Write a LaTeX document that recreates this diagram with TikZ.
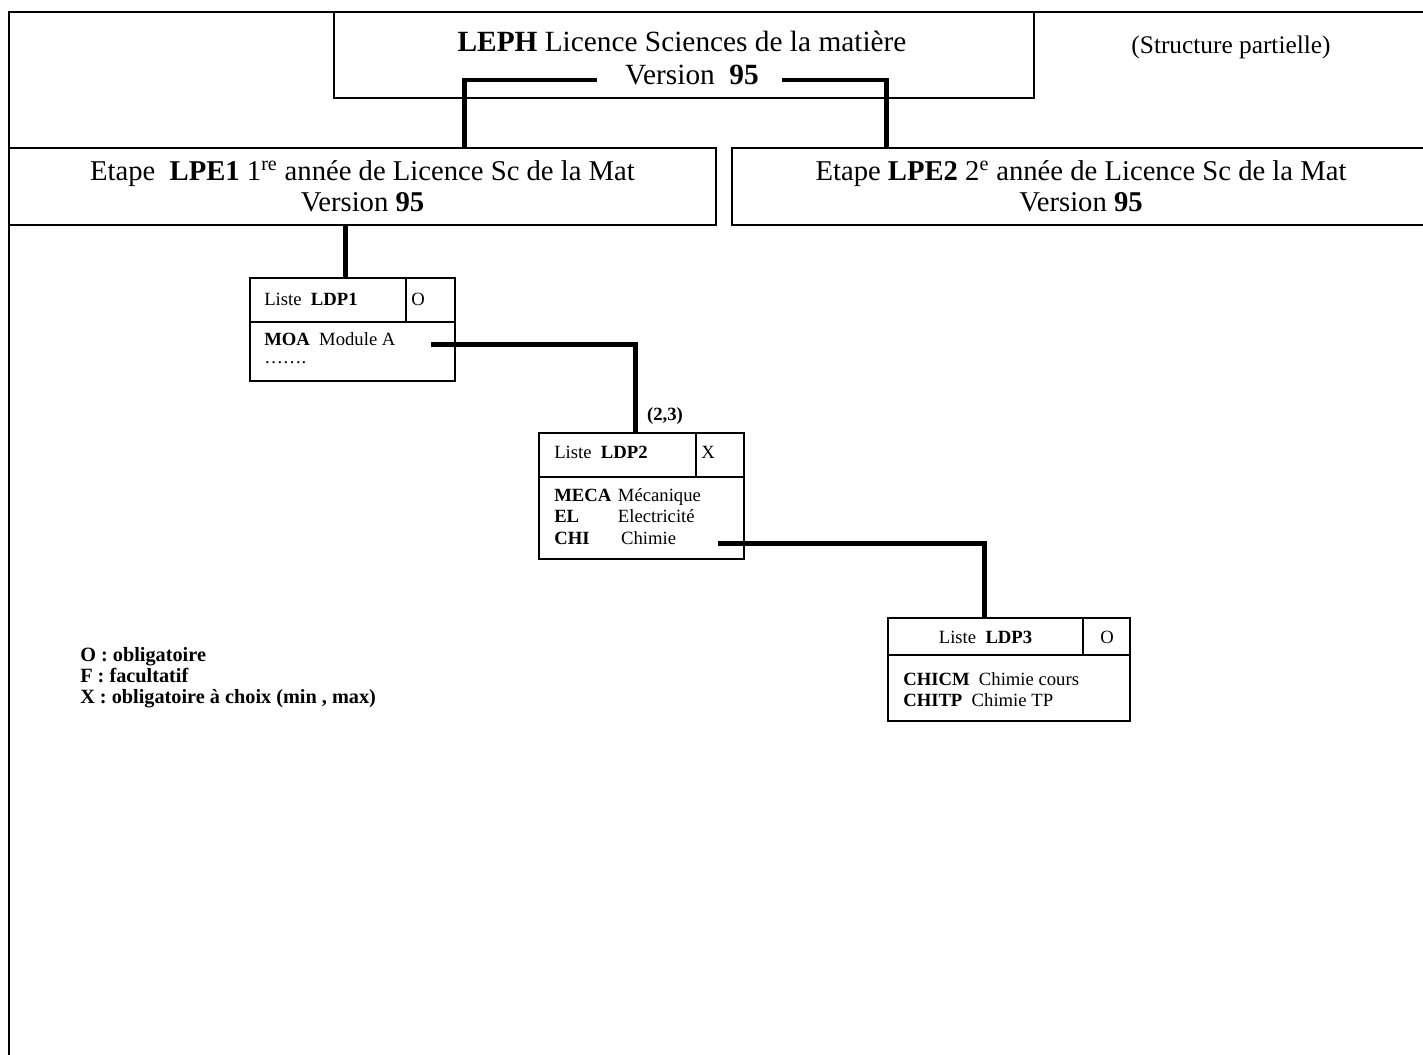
\documentclass[tikz,border=0pt]{standalone}
\usepackage{fontspec}
\setmainfont{Liberation Serif}
\usetikzlibrary{calc}

\newcommand\bigtxt{\fontsize{21.5}{23.3}\selectfont}
\newcommand\toptxt{\fontsize{22}{24}\selectfont}
\newcommand\midtxt{\fontsize{19}{22}\selectfont}
\newcommand\listtxt{\fontsize{14}{16.2}\selectfont}
\newcommand\keytxt{\fontsize{15.2}{16}\selectfont\bfseries}

\begin{document}
\begin{tikzpicture}[x=0.75pt,y=-0.75pt,
  frame/.style={line width=1.5pt},
  box/.style={draw,line width=0.9pt,inner sep=0pt},
  rule/.style={line width=0.9pt},
  link/.style={line width=3.5pt},
  lbl/.style={inner sep=0pt},
  ]
  \useasboundingbox (0,0) rectangle (1423,1054);
  \draw[frame] (9,1060) -- (9,12) -- (1430,12);

  \node[box,minimum width=525pt,minimum height=64.5pt] (leph) at (684,55) {};
  \node[lbl,font=\toptxt,anchor=base] (lephtitle) at (682,51.5) {\textbf{LEPH} Licence Sciences de la matière};
  \node[lbl,font=\toptxt,anchor=base] (lephver) at (692,84) {Version~~\textbf{95}};
  \node[lbl,font=\midtxt,anchor=base] (partial) at (1231,53) {(Structure partielle)};

  \node[box,font=\bigtxt,align=center,minimum width=530.25pt,minimum height=57.75pt] (lpe1) at (362.5,186.5)
    {Etape~~\textbf{LPE1} 1\textsuperscript{re} année de Licence Sc de la Mat\\Version \textbf{95}};
  \node[box,font=\bigtxt,align=center,minimum width=523.5pt,minimum height=57.75pt] (lpe2) at (1081,186.5)
    {Etape \textbf{LPE2} 2\textsuperscript{e} année de Licence Sc de la Mat\\Version \textbf{95}};

  \node[box,minimum width=153.75pt,minimum height=77.25pt] (ldp1) at (352.5,329.5) {};
  \draw[rule] (250,322) -- (455,322) (406,278) -- (406,322);
  \node[lbl,font=\listtxt,anchor=base west] (ldp1name) at (264,305) {Liste~~\textbf{LDP1}};
  \node[lbl,font=\listtxt,anchor=base west] (ldp1flag) at (411,305) {O};
  \node[lbl,font=\listtxt,anchor=base west] (ldp1items) at (264,345)
    {\begin{tabular}[t]{@{}l@{}}\textbf{MOA}~~Module A\\[-2pt]…….\end{tabular}};

  \node[box,minimum width=153.75pt,minimum height=94.5pt] (ldp2) at (641.5,496) {};
  \draw[rule] (539,477) -- (744,477) (696,433) -- (696,477);
  \node[lbl,font=\listtxt,anchor=base west] (ldp2name) at (554,458) {Liste~~\textbf{LDP2}};
  \node[lbl,font=\listtxt,anchor=base west] (ldp2flag) at (701,458) {X};
  \node[lbl,font=\listtxt,anchor=base west] (ldp2items) at (554,501)
    {\begin{tabular}[t]{@{}l@{\hspace{5pt}}l@{}}\textbf{MECA} & Mécanique\\\textbf{EL} & Electricité\\\textbf{CHI} & \,Chimie\end{tabular}};
  \node[lbl,font=\listtxt\bfseries] (pair) at (665,416) {(2,3)};

  \node[box,minimum width=181.5pt,minimum height=77.25pt] (ldp3) at (1009,669.5) {};
  \draw[rule] (888,655) -- (1130,655) (1083,618) -- (1083,655);
  \node[lbl,font=\listtxt,anchor=base] (ldp3name) at (985.5,643) {Liste~~\textbf{LDP3}};
  \node[lbl,font=\listtxt,anchor=base] (ldp3flag) at (1107,643) {O};
  \node[lbl,font=\listtxt,anchor=base west] (ldp3items) at (903,685)
    {\begin{tabular}[t]{@{}l@{}}\textbf{CHICM}~~Chimie cours\\\textbf{CHITP}~~Chimie TP\end{tabular}};

  \node[lbl,font=\keytxt,anchor=base west] (key) at (80,661)
    {\begin{tabular}[t]{@{}l@{}}O : obligatoire\\F : facultatif\\X : obligatoire à choix (min , max)\end{tabular}};

  \coordinate (ldp1up) at ($(ldp1.north west)+(96,0)$);
  \draw[link] ([xshift=-21pt,yshift=3pt]lephver.base west) -| ($(lpe1.north west)+(456,0)$);
  \draw[link] ([xshift=17pt,yshift=3pt]lephver.base east) -| ($(lpe2.north west)+(155,0)$);
  \draw[link] (ldp1up) -- (ldp1up |- lpe1.south);
  \draw[link] ($(ldp1.north west)+(182,67)$) -| ($(ldp2.north west)+(97,0)$);
  \draw[link] ($(ldp2.north west)+(180,111)$) -| ($(ldp3.north west)+(97,0)$);
\end{tikzpicture}
\end{document}
